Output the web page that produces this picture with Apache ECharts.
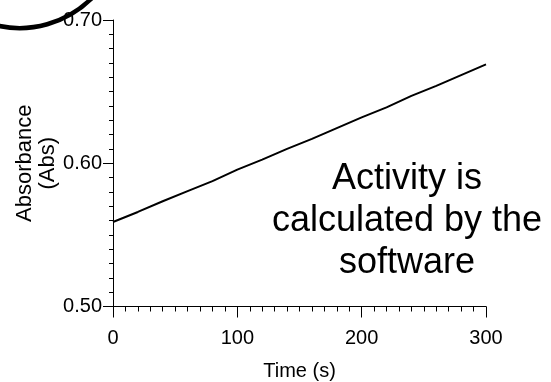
<!DOCTYPE html>
<html>
<head>
<meta charset="utf-8">
<script src="https://cdn.jsdelivr.net/npm/echarts@6/dist/echarts.min.js"></script>
<style>
  html, body { margin: 0; padding: 0; background: #fff; }
  #chart { width: 551px; height: 382px; }
</style>
</head>
<body>
<div id="chart"></div>
<script>
const fontFamily = '"Liberation Sans", Arial, sans-serif';

// time (s) and absorbance
const times = [0, 20, 40, 60, 80, 100, 120, 140, 160, 180, 200, 220, 240, 260, 280, 300];
const absorbance = [
  0.559, 0.566, 0.5735, 0.5805, 0.5875, 0.5955, 0.6025, 0.610,
  0.617, 0.6245, 0.632, 0.639, 0.647, 0.654, 0.6615, 0.669
];
const xTicks = [0, 100, 200, 300];
const yTicks = [0.50, 0.60, 0.70];

const note = 'Activity is\ncalculated by the\nsoftware';

const chart = echarts.init(document.getElementById('chart'));

const option = {
  animation: false,
  backgroundColor: '#fff',
  textStyle: { fontFamily: fontFamily, color: '#000' },
  grid: {
    left: 113, right: 65, top: 20, bottom: 75.5,
    containLabel: false,
    outerBoundsMode: 'none'
  },
  xAxis: {
    type: 'value',
    min: xTicks[0],
    max: xTicks[xTicks.length - 1],
    interval: 100,
    name: 'Time (s)',
    nameLocation: 'middle',
    nameGap: 55,
    nameMoveOverlap: false,
    nameTextStyle: { fontSize: 20, color: '#000', fontFamily: fontFamily },
    axisLine: { show: true, onZero: false, lineStyle: { color: '#000', width: 1 } },
    axisTick: { show: true, inside: false, length: 11, lineStyle: { color: '#000' } },
    minorTick: { show: true, splitNumber: 10, length: 5, lineStyle: { color: '#000' } },
    splitLine: { show: false },
    axisLabel: { fontSize: 20, color: '#000', margin: 22, fontFamily: fontFamily }
  },
  yAxis: {
    type: 'value',
    min: yTicks[0],
    max: yTicks[yTicks.length - 1],
    interval: 0.1,
    name: 'Absorbance\n(Abs)',
    nameLocation: 'middle',
    nameGap: 54,
    nameMoveOverlap: false,
    nameTextStyle: { fontSize: 22, lineHeight: 23, color: '#000', fontFamily: fontFamily },
    axisLine: { show: true, onZero: false, lineStyle: { color: '#000', width: 1 } },
    axisTick: { show: true, inside: false, length: 10, lineStyle: { color: '#000' } },
    minorTick: { show: true, splitNumber: 10, length: 4, lineStyle: { color: '#000' } },
    splitLine: { show: false },
    axisLabel: {
      fontSize: 20, color: '#000', margin: 11, fontFamily: fontFamily,
      formatter: function (v) { return v.toFixed(2); }
    }
  },
  series: [{
    type: 'line',
    data: times.map((t, i) => [t, absorbance[i]]),
    showSymbol: false,
    lineStyle: { color: '#000', width: 2 },
    silent: true
  }],
  graphic: [
    {
      // hand-drawn loop cut off at the top-left corner
      type: 'bezierCurve',
      shape: { x1: -5, y1: 25, cpx1: 30, cpy1: 34, cpx2: 67, cpy2: 23, x2: 92, y2: -2 },
      style: { fill: 'none', stroke: '#000', lineWidth: 4.5 },
      silent: true
    },
    {
      type: 'text',
      x: 407,
      y: 221,
      style: {
        text: note,
        fontSize: 36,
        fontFamily: fontFamily,
        lineHeight: 42,
        fill: '#000',
        align: 'center',
        verticalAlign: 'middle'
      },
      silent: true
    }
  ]
};

chart.setOption(option);
</script>
</body>
</html>
